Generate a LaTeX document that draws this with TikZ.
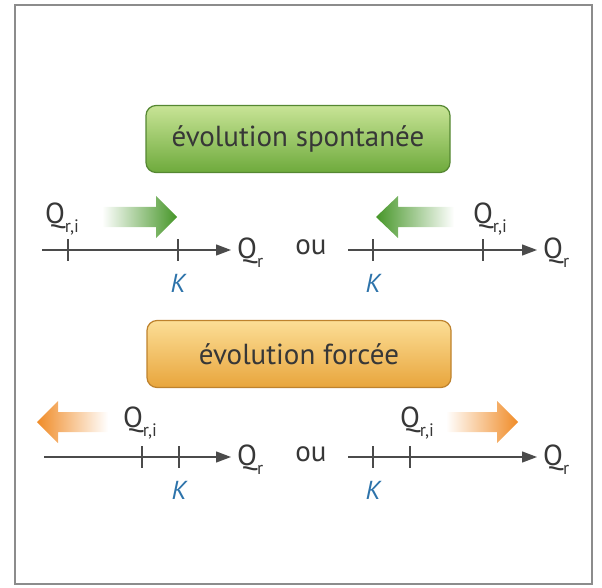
\documentclass[tikz,border=0pt]{standalone}
\usepackage{fontspec}
\setmainfont{PT Sans}
\usetikzlibrary{arrows.meta}
\definecolor{axisgray}{RGB}{75,75,75}
\definecolor{txtgray}{RGB}{55,55,55}
\definecolor{kblue}{RGB}{45,115,170}
\definecolor{gtop}{RGB}{200,228,150}
\definecolor{gbot}{RGB}{110,170,60}
\definecolor{gdraw}{RGB}{85,135,50}
\definecolor{garrow}{RGB}{70,150,40}
\definecolor{otop}{RGB}{252,222,150}
\definecolor{obot}{RGB}{232,165,60}
\definecolor{odraw}{RGB}{190,130,45}
\definecolor{oarrow}{RGB}{240,140,40}
\newcommand\mysub[1]{\raisebox{-0.3em}{\fontsize{18}{18}\selectfont #1}}
\tikzset{
  bigtxt/.style={font=\fontsize{29}{32}\selectfont, text=txtgray, inner sep=0pt},
  ktxt/.style={font=\fontsize{26}{30}\selectfont\itshape, text=kblue, inner sep=0pt},
  axisline/.style={draw=axisgray, line width=1.3pt, -{Triangle[length=15pt,width=11pt]}},
  tickmark/.style={draw=axisgray, line width=1.3pt},
  boxbase/.style={rounded corners=10pt, line width=1.2pt, minimum width=304pt, minimum height=67pt,
     font=\fontsize{29}{32}\selectfont, text=txtgray},
  greenbox/.style={boxbase, draw=gdraw, top color=gtop, bottom color=gbot},
  orangebox/.style={boxbase, draw=odraw, top color=otop, bottom color=obot},
}
\begin{document}
\begin{tikzpicture}[x=1pt,y=-1pt]
\useasboundingbox (0,0) rectangle (602,588);
\draw[line width=1.5pt, draw=black!45] (15,5) rectangle (592,584);

% ---- spontaneous ----
\node[greenbox] (sp) at (298,139) {évolution spontanée};

% left axis row 1
\coordinate (a1s) at (42,250);
\coordinate (a1e) at (231,250);
\draw[axisline] (a1s) -- (a1e);
\node[bigtxt, anchor=west] (q1) at (237,253) {Q\mysub{r}};
\draw[tickmark] (68,239) -- (68,261);
\draw[tickmark] (178,239) -- (178,261);
\node[bigtxt] (qi1) at (62,219) {Q\mysub{r,i}};
\node[ktxt] (k1) at (178,283) {K};
\shade[left color=white, right color=garrow]
  (102,207) -- (156,207) -- (156,196) -- (177,217) -- (156,238) -- (156,227) -- (102,227) -- cycle;

\node[bigtxt] (ou1) at (311,247) {ou};

% right axis row 1
\coordinate (b1s) at (348,250);
\coordinate (b1e) at (537,250);
\draw[axisline] (b1s) -- (b1e);
\node[bigtxt, anchor=west] (q2) at (543,253) {Q\mysub{r}};
\draw[tickmark] (373,239) -- (373,261);
\draw[tickmark] (483,239) -- (483,261);
\node[bigtxt] (qi2) at (490,219) {Q\mysub{r,i}};
\node[ktxt] (k2) at (373,283) {K};
\shade[left color=garrow, right color=white]
  (454,207) -- (398,207) -- (398,196) -- (376,217) -- (398,238) -- (398,227) -- (454,227) -- cycle;

% ---- forced ----
\node[orangebox] (fo) at (299,354) {évolution forcée};

% left axis row 2
\coordinate (a2s) at (44,457);
\coordinate (a2e) at (231,457);
\draw[axisline] (a2s) -- (a2e);
\node[bigtxt, anchor=west] (q3) at (237,460) {Q\mysub{r}};
\draw[tickmark] (142,446) -- (142,468);
\draw[tickmark] (179,446) -- (179,468);
\node[bigtxt] (qi3) at (140,423) {Q\mysub{r,i}};
\node[ktxt] (k3) at (179,490) {K};
\shade[left color=oarrow, right color=white]
  (108,412) -- (58,412) -- (58,401) -- (37,422) -- (58,443) -- (58,432) -- (108,432) -- cycle;

\node[bigtxt] (ou2) at (311,454) {ou};

% right axis row 2
\coordinate (b2s) at (348,457);
\coordinate (b2e) at (537,457);
\draw[axisline] (b2s) -- (b2e);
\node[bigtxt, anchor=west] (q4) at (543,460) {Q\mysub{r}};
\draw[tickmark] (373,446) -- (373,468);
\draw[tickmark] (410,446) -- (410,468);
\node[bigtxt] (qi4) at (417,423) {Q\mysub{r,i}};
\node[ktxt] (k4) at (373,490) {K};
\shade[left color=white, right color=oarrow]
  (446,412) -- (497,412) -- (497,401) -- (518,422) -- (497,443) -- (497,432) -- (446,432) -- cycle;
\end{tikzpicture}
\end{document}
